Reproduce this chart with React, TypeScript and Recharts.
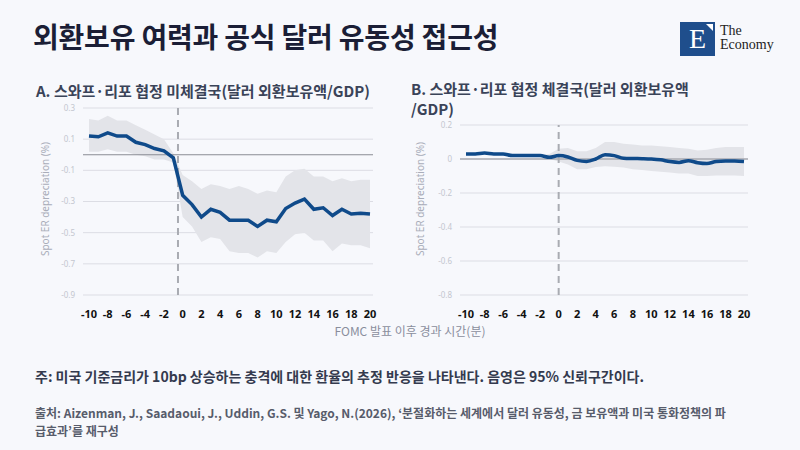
import React from "react"
import {
  ComposedChart,
  Area,
  Line,
  XAxis,
  YAxis,
  CartesianGrid,
  ReferenceLine,
} from "recharts"

// minutes after the FOMC announcement
const minutes = [-10, -9, -8, -7, -6, -5, -4, -3, -2, -1, 0, 1, 2, 3, 4, 5, 6, 7, 8, 9, 10, 11, 12, 13, 14, 15, 16, 17, 18, 19, 20]
const xTicks = [-10, -8, -6, -4, -2, 0, 2, 4, 6, 8, 10, 12, 14, 16, 18, 20]

// A. no swap/repo line
const noSwapMid = [0.12, 0.115, 0.14, 0.12, 0.12, 0.08, 0.065, 0.04, 0.025, -0.02, -0.26, -0.32, -0.4, -0.35, -0.37, -0.42, -0.42, -0.42, -0.46, -0.42, -0.43, -0.345, -0.31, -0.285, -0.35, -0.34, -0.39, -0.35, -0.38, -0.375, -0.38]
const noSwapHigh = [0.23, 0.22, 0.25, 0.22, 0.22, 0.19, 0.16, 0.13, 0.1, 0.01, -0.13, -0.17, -0.22, -0.19, -0.2, -0.22, -0.2, -0.22, -0.25, -0.23, -0.24, -0.14, -0.1, -0.09, -0.14, -0.14, -0.17, -0.15, -0.17, -0.16, -0.16]
const noSwapLow = [0.02, 0.02, 0.035, 0.02, 0.02, 0.0, -0.01, -0.03, -0.03, -0.05, -0.4, -0.46, -0.56, -0.53, -0.54, -0.62, -0.63, -0.63, -0.66, -0.62, -0.63, -0.56, -0.51, -0.5, -0.55, -0.55, -0.62, -0.57, -0.58, -0.58, -0.6]
const noSwapTicks = [-0.9, -0.7, -0.5, -0.3, -0.1, 0.1, 0.3]

// B. swap/repo line
const swapMid = [0.03, 0.03, 0.035, 0.03, 0.03, 0.02, 0.02, 0.02, 0.02, 0.01, 0.02, 0.012, -0.008, -0.014, 0.0, 0.025, 0.02, 0.005, 0.003, 0.002, 0.0, -0.005, -0.015, -0.02, -0.01, -0.022, -0.027, -0.015, -0.012, -0.012, -0.015]
const swapHigh = [0.034, 0.034, 0.039, 0.034, 0.034, 0.024, 0.024, 0.024, 0.024, 0.03, 0.06, 0.065, 0.045, 0.045, 0.065, 0.1, 0.1, 0.09, 0.085, 0.08, 0.08, 0.075, 0.07, 0.065, 0.06, 0.05, 0.055, 0.065, 0.07, 0.07, 0.07]
const swapLow = [0.026, 0.026, 0.031, 0.026, 0.026, 0.016, 0.016, 0.016, 0.016, 0.0, -0.014, -0.033, -0.06, -0.06, -0.047, -0.043, -0.045, -0.05, -0.06, -0.065, -0.07, -0.075, -0.08, -0.085, -0.086, -0.1, -0.1, -0.097, -0.097, -0.097, -0.1]
const swapTicks = [-0.8, -0.6, -0.4, -0.2, 0, 0.2]

const leftData = minutes.map((m, i) => ({ m, v: noSwapMid[i], band: [noSwapLow[i], noSwapHigh[i]] }))
const rightData = minutes.map((m, i) => ({ m, v: swapMid[i], band: [swapLow[i], swapHigh[i]] }))

const KR = "'Noto Sans CJK KR', 'Noto Sans', sans-serif"
const LINE = "#0f4a8a"
const BAND = "#e3e4e9"

const axisTitle: React.CSSProperties = {
  position: "absolute",
  width: 200,
  textAlign: "center",
  transform: "rotate(-90deg)",
  fontFamily: "'Noto Sans', sans-serif",
  fontSize: 10,
  color: "#a9adb9",
}

function Panel({ data, ticks, domain, top, left, right, padL, padR, vline, smooth }: any) {
  return (
    <ComposedChart width={400} height={330} data={data} margin={{ top, right, bottom: 5, left }}>
      <CartesianGrid vertical={false} stroke="#dcdde4" />
      <XAxis
        dataKey="m"
        type="number"
        domain={[-10, 20]}
        ticks={xTicks}
        interval={0}
        padding={{ left: padL, right: padR }}
        axisLine={false}
        tickLine={false}
        tickMargin={9}
        height={30}
        tick={{ fill: "#111", fontSize: 11, fontWeight: 700, fontFamily: "'Noto Sans', sans-serif" }}
      />
      <YAxis
        domain={domain}
        ticks={ticks}
        interval={0}
        width={43}
        axisLine={false}
        tickLine={false}
        tick={{ fill: "#c3c6cf", fontSize: 8, fontFamily: "'Noto Sans', sans-serif" }}
      />
      <Area dataKey="band" type="linear" fill={BAND} fillOpacity={1} stroke="none" isAnimationActive={false} />
      <ReferenceLine y={0} stroke="#8a8c94" strokeWidth={1} />
      <ReferenceLine x={vline} stroke="#a9abb2" strokeWidth={2} strokeDasharray="7 5" />
      <Line
        dataKey="v"
        type={smooth ? "monotone" : "linear"}
        stroke={LINE}
        strokeWidth={3.5}
        dot={false}
        isAnimationActive={false}
      />
    </ComposedChart>
  )
}

export default function App() {
  return (
    <div style={{ position: "absolute", left: 0, top: 0, width: 800, height: 450, background: "#f7f8fc", overflow: "hidden", fontFamily: KR }}>
      <div style={{ position: "absolute", left: 33, top: 16, fontSize: 28, fontWeight: 700, color: "#1b1e36", letterSpacing: -0.2 }}>
        외환보유 여력과 공식 달러 유동성 접근성
      </div>

      {/* logo */}
      <div style={{ position: "absolute", left: 680, top: 22, width: 35, height: 34, background: "#1f4e8c" }}>
        <div style={{ position: "absolute", left: 0, top: 1, width: 35, textAlign: "center", color: "#fff", fontFamily: "'Liberation Serif', serif", fontSize: 28, lineHeight: "32px" }}>E</div>
        <div style={{ position: "absolute", right: 2, top: 2, width: 0, height: 0, borderTop: "7px solid #fff", borderLeft: "7px solid transparent" }} />
      </div>
      <div style={{ position: "absolute", left: 720, top: 24, fontFamily: "'Liberation Serif', serif", fontSize: 14, lineHeight: "14px", color: "#222" }}>
        The<br />Economy
      </div>

      <div style={{ position: "absolute", left: 36, top: 80, fontSize: 15, fontWeight: 700, color: "#3a4358" }}>
        A. 스와프·리포 협정 미체결국(달러 외환보유액/GDP)
      </div>
      <div style={{ position: "absolute", left: 411, top: 79, fontSize: 15, fontWeight: 700, color: "#3a4358", lineHeight: "20px" }}>
        B. 스와프·리포 협정 체결국(달러 외환보유액
        <br />
        /GDP)
      </div>

      <div style={{ position: "absolute", left: 0, top: 0 }}>
        <Panel data={leftData} ticks={noSwapTicks} domain={[-0.9, 0.3]} top={108} left={40} right={27} padL={6} padR={3} vline={-0.5} smooth={false} />
      </div>
      <div style={{ position: "absolute", left: 400, top: 0 }}>
        <Panel data={rightData} ticks={swapTicks} domain={[-0.8, 0.2]} top={125} left={17} right={52} padL={6} padR={4} vline={0} smooth={true} />
      </div>

      <div style={{ ...axisTitle, left: 45 - 100, top: 192 }}>Spot ER depreciation (%)</div>
      <div style={{ ...axisTitle, left: 420 - 100, top: 192 }}>Spot ER depreciation (%)</div>

      <div style={{ position: "absolute", left: 0, width: 820, top: 322, textAlign: "center", fontSize: 12, color: "#8a8e9c" }}>
        FOMC 발표 이후 경과 시간(분)
      </div>

      <div style={{ position: "absolute", left: 35, top: 366, fontSize: 14, fontWeight: 600, color: "#343a4e" }}>
        주: 미국 기준금리가 10bp 상승하는 충격에 대한 환율의 추정 반응을 나타낸다. 음영은 95% 신뢰구간이다.
      </div>
      <div style={{ position: "absolute", left: 35, top: 404, fontSize: 12, fontWeight: 600, color: "#575c6b", lineHeight: "18px" }}>
        출처: Aizenman, J., Saadaoui, J., Uddin, G.S. 및 Yago, N.(2026), ‘분절화하는 세계에서 달러 유동성, 금 보유액과 미국 통화정책의 파
        <br />
        급효과’를 재구성
      </div>
    </div>
  )
}
